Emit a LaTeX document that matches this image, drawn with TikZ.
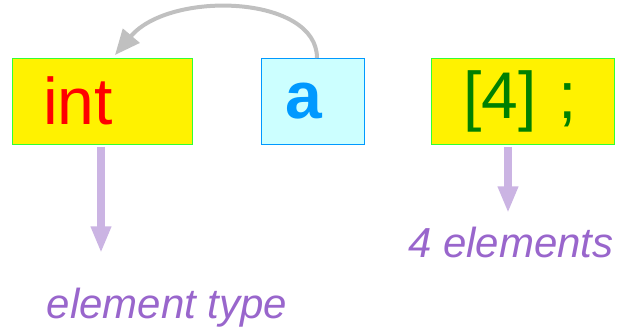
\documentclass[tikz,border=0pt]{standalone}
\usepackage{fontspec}
\setmainfont{Liberation Sans}
\usetikzlibrary{arrows.meta}
\definecolor{boxgreen}{HTML}{33FF33}
\definecolor{aborder}{HTML}{0099FF}
\definecolor{afill}{HTML}{CCFFFF}
\definecolor{darkgreen}{HTML}{008000}
\definecolor{lilac}{HTML}{CBB4E3}
\definecolor{labelpurple}{HTML}{9966CC}
\definecolor{curvegrey}{HTML}{C0C0C0}

\begin{document}
\begin{tikzpicture}[x=0.75pt,y=-0.75pt,
  code/.style={draw,line width=0.75pt,minimum height=64.5pt,align=left,
    font=\fontsize{49.5}{50}\selectfont},
  ybox/.style={code,draw=boxgreen,fill=yellow},
  down/.style={draw=lilac,line width=6pt,-{Triangle[length=20pt,width=14.25pt]}},
  note/.style={anchor=base,text=labelpurple,font=\fontsize{31.5}{33}\selectfont\itshape}]
  \useasboundingbox (0,0) rectangle (621,329);
  \node [ybox,text=red,inner xsep=23.25pt,text width=88.5pt] (int) at (102,101) {int};
  \node [code,draw=aborder,fill=afill,text=aborder,inner xsep=18pt,text width=41.25pt,
    font=\fontsize{49.5}{50}\selectfont\bfseries] (a) at (312.5,101) {a};
  \node [ybox,text=darkgreen,inner xsep=24pt,text width=89.25pt] (num) at (522.5,101) {[4] ;};
  % labels under the boxes
  \coordinate (inttip) at (101,253);
  \coordinate (numtip) at (508,213);
  \node [note] (type) at (167,318) {element type};
  \node [note] (count) at (511,257) {4 elements};
  \draw [down,shorten <=1.5pt] (int.south -| inttip) -- (inttip);
  \draw [down,shorten <=1.5pt] (num.south -| numtip) -- (numtip);
  % the name refers back to the type
  \coordinate (atop) at (317,58);
  \coordinate (inttop) at (115,55);
  \draw [curvegrey,line width=3pt,-{Triangle[length=19pt,width=16pt]}]
    (atop) .. controls (317,-5) and (170,-10) .. (inttop);
\end{tikzpicture}
\end{document}
